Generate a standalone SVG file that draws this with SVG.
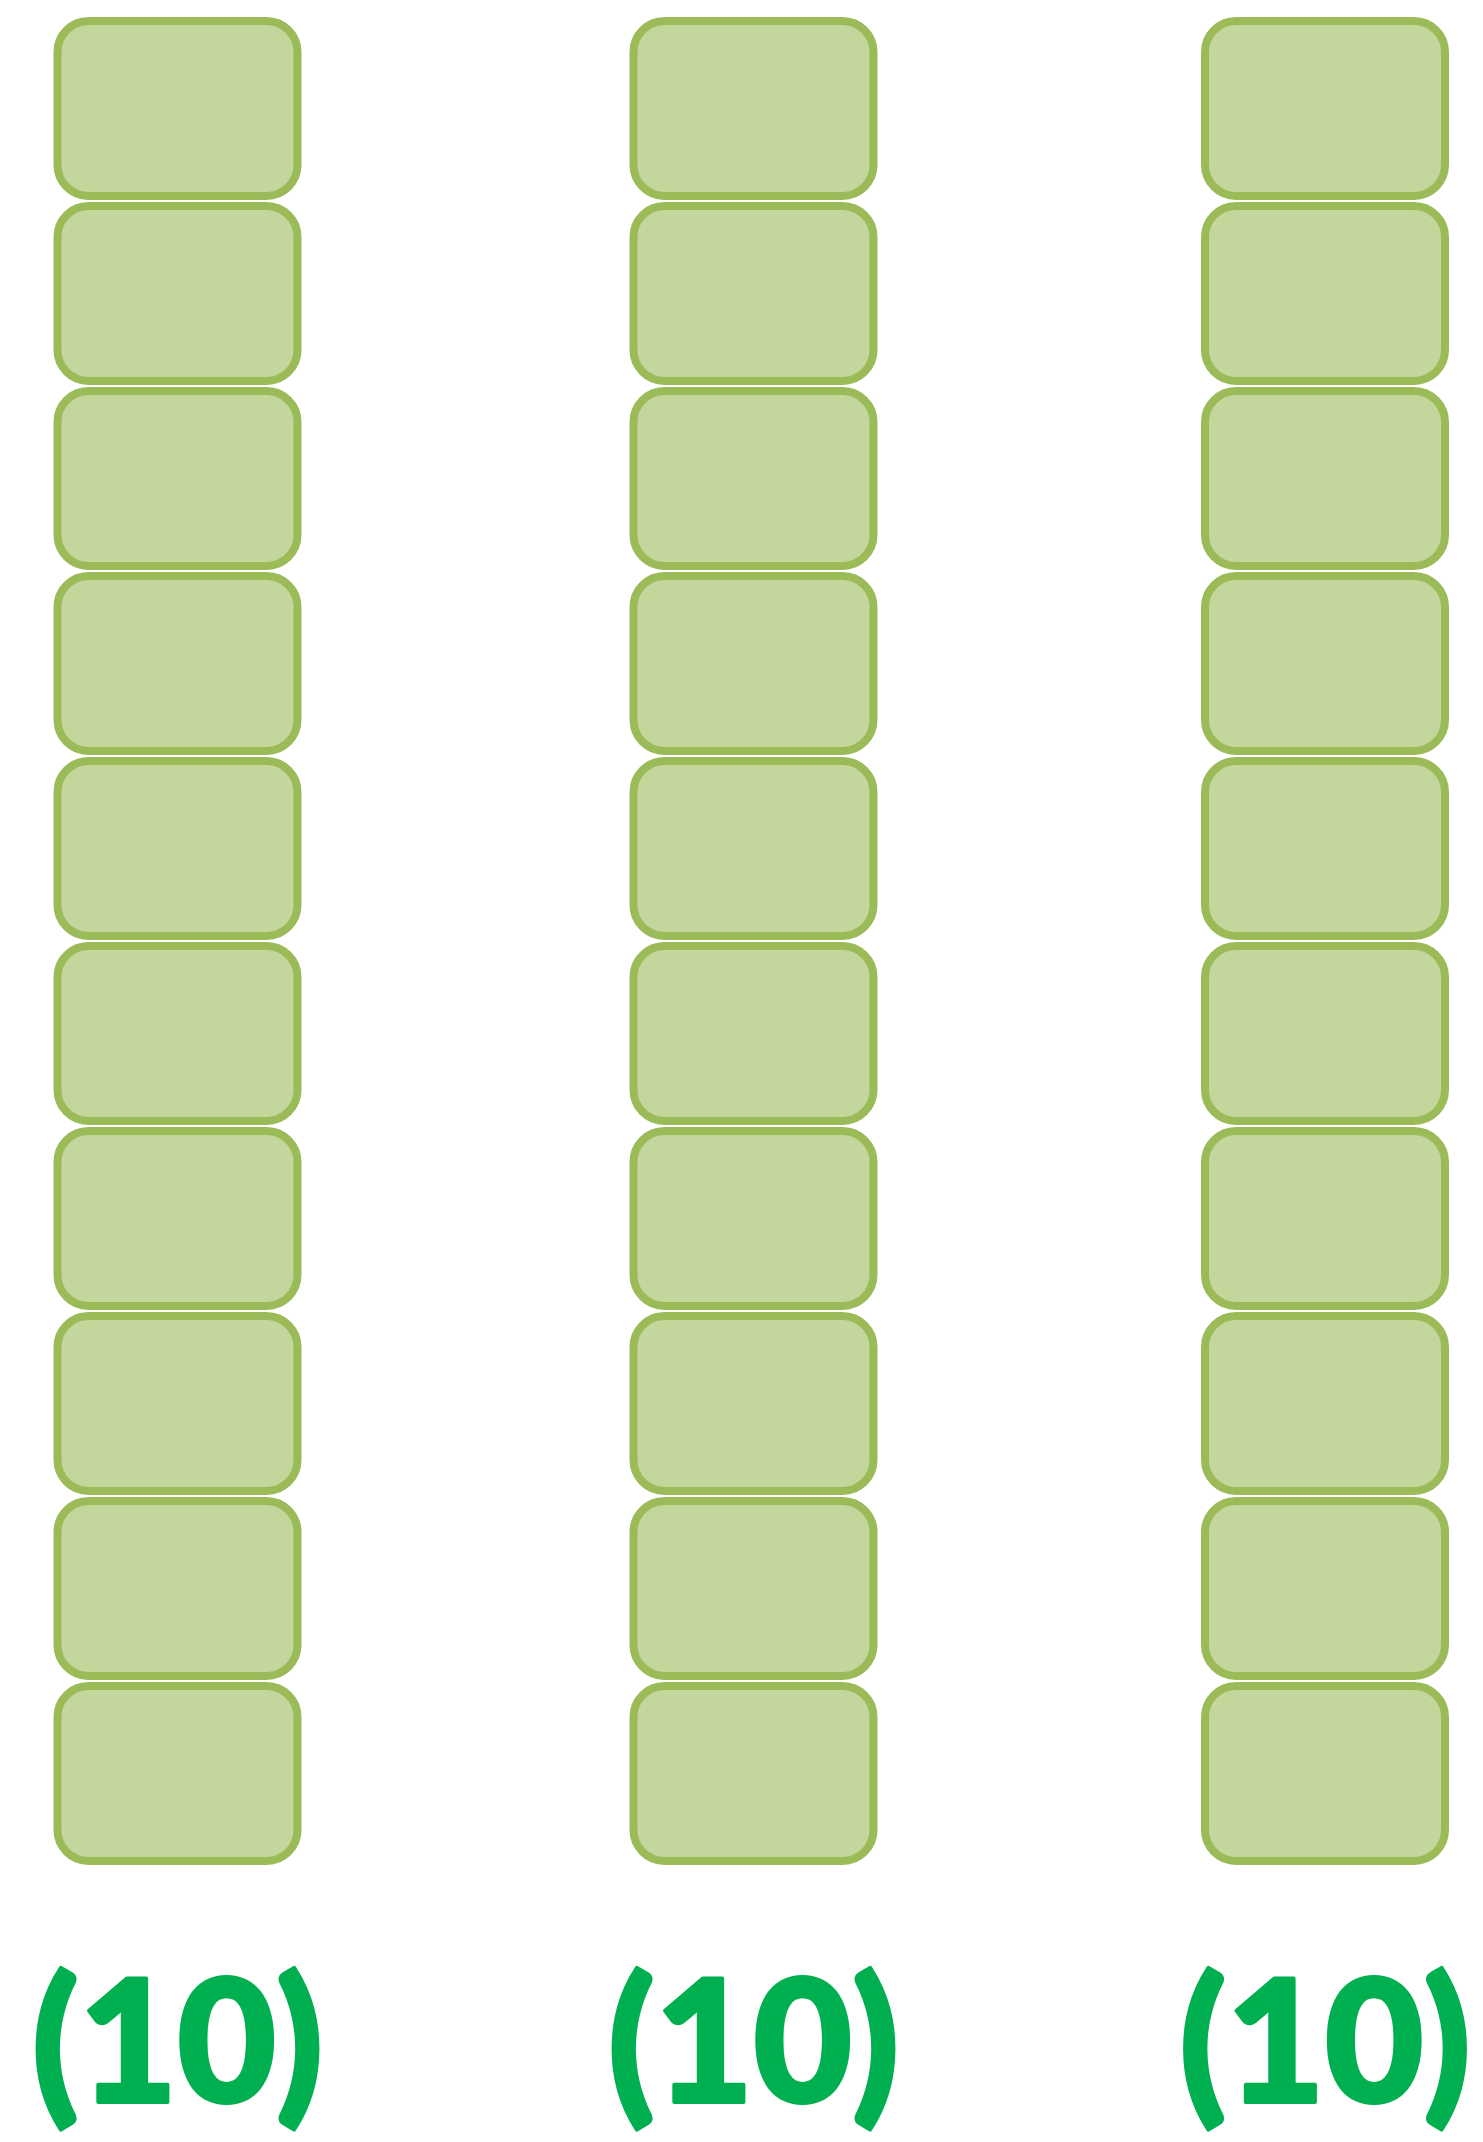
<svg xmlns="http://www.w3.org/2000/svg" width="1483" height="2142" viewBox="0 0 1483 2142">
<defs>
<style>
.b{fill:#C3D69B;stroke:#9BBB59;stroke-width:8}
.t{fill:#00B050;stroke:#00B050;stroke-width:4;stroke-linejoin:round;font-family:Lato,"Open Sans","Liberation Sans",sans-serif;font-weight:900;font-size:170px;text-anchor:middle}
</style>
<rect id="box" class="b" x="0" y="0" width="240" height="175" rx="31" ry="31"/>
</defs>
<rect width="1483" height="2142" fill="#FFFFFF"/>
<g id="connectors"/>
<g id="col1">
<use id="c1b1" href="#box" x="57.5" y="21"/>
<use id="c1b2" href="#box" x="57.5" y="206"/>
<use id="c1b3" href="#box" x="57.5" y="391"/>
<use id="c1b4" href="#box" x="57.5" y="576"/>
<use id="c1b5" href="#box" x="57.5" y="761"/>
<use id="c1b6" href="#box" x="57.5" y="946"/>
<use id="c1b7" href="#box" x="57.5" y="1131"/>
<use id="c1b8" href="#box" x="57.5" y="1316"/>
<use id="c1b9" href="#box" x="57.5" y="1501"/>
<use id="c1b10" href="#box" x="57.5" y="1686"/>
</g>
<g id="col2">
<use id="c2b1" href="#box" x="633.5" y="21"/>
<use id="c2b2" href="#box" x="633.5" y="206"/>
<use id="c2b3" href="#box" x="633.5" y="391"/>
<use id="c2b4" href="#box" x="633.5" y="576"/>
<use id="c2b5" href="#box" x="633.5" y="761"/>
<use id="c2b6" href="#box" x="633.5" y="946"/>
<use id="c2b7" href="#box" x="633.5" y="1131"/>
<use id="c2b8" href="#box" x="633.5" y="1316"/>
<use id="c2b9" href="#box" x="633.5" y="1501"/>
<use id="c2b10" href="#box" x="633.5" y="1686"/>
</g>
<g id="col3">
<use id="c3b1" href="#box" x="1205" y="21"/>
<use id="c3b2" href="#box" x="1205" y="206"/>
<use id="c3b3" href="#box" x="1205" y="391"/>
<use id="c3b4" href="#box" x="1205" y="576"/>
<use id="c3b5" href="#box" x="1205" y="761"/>
<use id="c3b6" href="#box" x="1205" y="946"/>
<use id="c3b7" href="#box" x="1205" y="1131"/>
<use id="c3b8" href="#box" x="1205" y="1316"/>
<use id="c3b9" href="#box" x="1205" y="1501"/>
<use id="c3b10" href="#box" x="1205" y="1686"/>
</g>
<g id="label1"><text class="t" x="177.5" y="2102" textLength="291" lengthAdjust="spacingAndGlyphs">(10)</text></g>
<g id="label2"><text class="t" x="753.5" y="2102" textLength="291" lengthAdjust="spacingAndGlyphs">(10)</text></g>
<g id="label3"><text class="t" x="1325" y="2102" textLength="291" lengthAdjust="spacingAndGlyphs">(10)</text></g>
</svg>
